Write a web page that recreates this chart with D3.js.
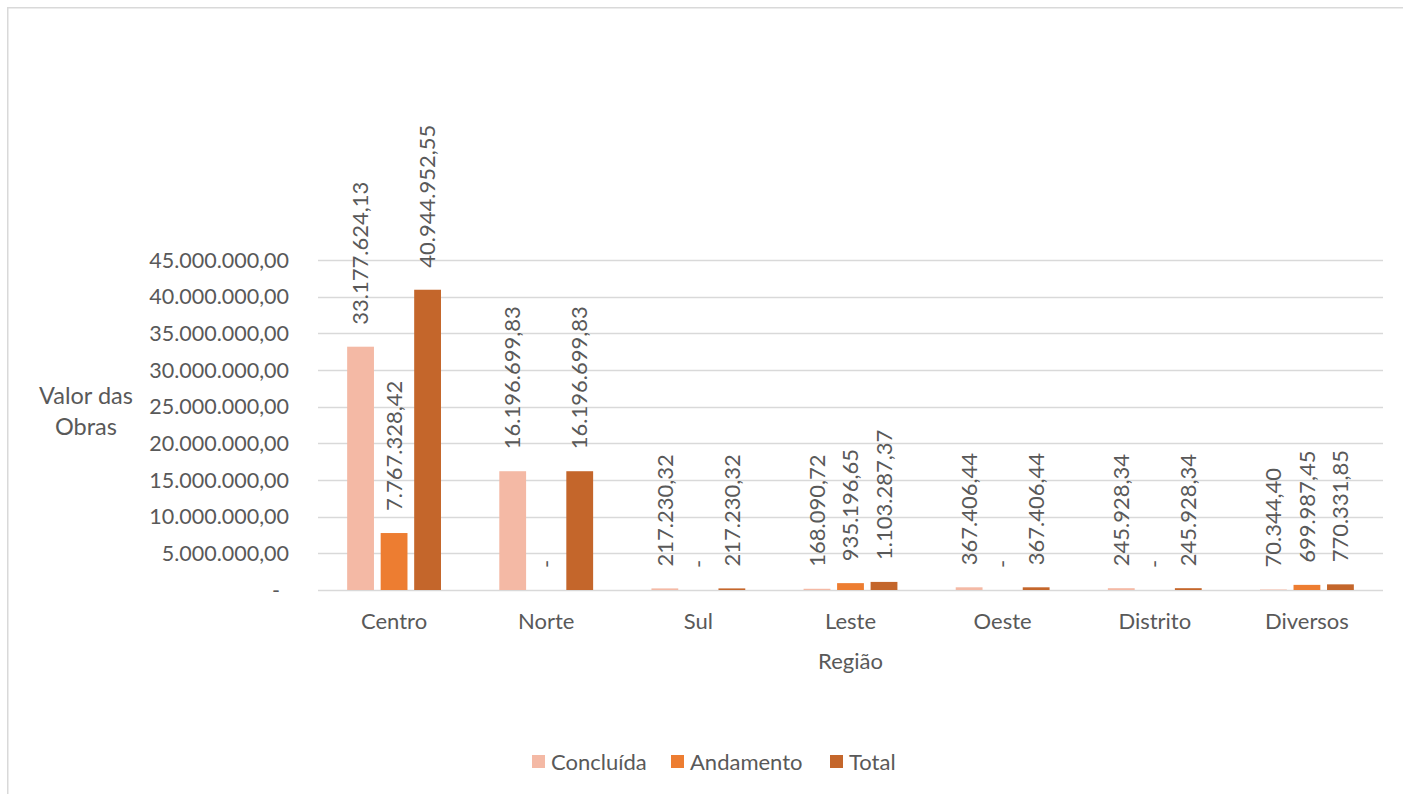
<!DOCTYPE html>
<html>
<head>
<meta charset="utf-8">
<script src="https://cdn.jsdelivr.net/npm/d3@7"></script>
<style>
  html, body { margin: 0; padding: 0; background: #fff; }
  svg { display: block; }
  text { font-family: Lato, "Open Sans", sans-serif; fill: #595959; }
</style>
</head>
<body>
<svg id="chart" width="1403" height="794"></svg>
<script>
// ---- data ----
const categories = ["Centro", "Norte", "Sul", "Leste", "Oeste", "Distrito", "Diversos"];
const seriesNames = ["Concluída", "Andamento", "Total"];
const concluida = [33177624.13, 16196699.83, 217230.32, 168090.72, 367406.44, 245928.34, 70344.40];
const andamento = [7767328.42, 0, 0, 935196.65, 0, 0, 699987.45];
const total     = [40944952.55, 16196699.83, 217230.32, 1103287.37, 367406.44, 245928.34, 770331.85];
const yTicks = [0, 5000000, 10000000, 15000000, 20000000, 25000000, 30000000, 35000000, 40000000, 45000000];
const colors = ["#F4B9A5", "#ED7D31", "#C4662B"];
const xTitle = "Região";
const yTitleLines = ["Valor das", "Obras"];

const seriesValues = [concluida, andamento, total];

const svg = d3.select("#chart");
const W = 1403, H = 794;
const plot = { left: 318, right: 1383, top: 260, bottom: 590 };
const FS_TICK = 21.5, FS_VAL = 22, FS_TXT = 22, FS_YT = 23.5;

const locale = d3.formatLocale({ decimal: ",", thousands: ".", grouping: [3], currency: ["", ""] });
const fmtNum = locale.format(",.2f");
const fmt = v => v === 0 ? "-" : fmtNum(v);

// frame
svg.append("path")
  .attr("d", `M7.75,${H} V7.75 H${W}`)
  .attr("fill", "none")
  .attr("stroke", "#d9d9d9")
  .attr("stroke-width", 1.5);

const x = d3.scaleBand().domain(categories).range([plot.left, plot.right]).padding(0);
const xs = d3.scaleBand().domain(seriesNames).range([0, x.bandwidth()]).paddingInner(0.2).paddingOuter(0.87);
const y = d3.scaleLinear().domain([0, 45000000]).range([plot.bottom, plot.top]);

// gridlines
svg.append("g").selectAll("line").data(yTicks).join("line")
  .attr("x1", plot.left).attr("x2", plot.right)
  .attr("y1", d => Math.round(y(d)) + 0.5).attr("y2", d => Math.round(y(d)) + 0.5)
  .attr("stroke", "#d9d9d9").attr("stroke-width", 1.3);

// y tick labels
svg.append("g").selectAll("text").data(yTicks).join("text")
  .attr("x", d => d === 0 ? 280 : 289)
  .attr("y", d => y(d))
  .attr("dy", "0.35em")
  .attr("text-anchor", "end")
  .style("font-size", FS_TICK + "px")
  .text(d => fmt(d));

// bars
const rows = categories.map((c, i) => seriesNames.map((s, j) => ({ cat: c, ser: s, j, v: seriesValues[j][i] })));
const gCat = svg.append("g").selectAll("g").data(rows).join("g")
  .attr("transform", (d, i) => `translate(${x(categories[i])},0)`);

gCat.selectAll("rect").data(d => d.filter(e => e.v > 0)).join("rect")
  .attr("x", d => xs(d.ser))
  .attr("width", xs.bandwidth())
  .attr("y", d => y(d.v))
  .attr("height", d => y(0) - y(d.v))
  .attr("fill", d => colors[d.j]);

// value labels
gCat.selectAll("text").data(d => d).join("text")
  .attr("transform", d => `translate(${xs(d.ser) + xs.bandwidth() / 2},${y(d.v) - 22}) rotate(-90)`)
  .attr("dy", "0.35em")
  .attr("text-anchor", "start")
  .style("font-size", FS_VAL + "px")
  .text(d => fmt(d.v));

// category labels
svg.append("g").selectAll("text").data(categories).join("text")
  .attr("x", d => x(d) + x.bandwidth() / 2)
  .attr("y", 621)
  .attr("dy", "0.35em")
  .attr("text-anchor", "middle")
  .style("font-size", FS_TXT + "px")
  .text(d => d);

// axis titles
svg.append("text")
  .attr("x", (plot.left + plot.right) / 2)
  .attr("y", 661).attr("dy", "0.35em")
  .attr("text-anchor", "middle")
  .style("font-size", FS_TXT + "px")
  .text(xTitle);

svg.append("g").selectAll("text").data(yTitleLines).join("text")
  .attr("x", 86)
  .attr("y", (d, i) => 396 + i * 31).attr("dy", "0.35em")
  .attr("text-anchor", "middle")
  .style("font-size", FS_YT + "px")
  .text(d => d);

// legend
const legendX = [532, 671, 830];
const lg = svg.append("g").selectAll("g").data(seriesNames).join("g")
  .attr("transform", (d, i) => `translate(${legendX[i]},762)`);
lg.append("rect").attr("x", 0).attr("y", -7).attr("width", 13).attr("height", 13)
  .attr("fill", (d, i) => colors[i]);
lg.append("text").attr("x", 19).attr("y", 0).attr("dy", "0.35em")
  .style("font-size", FS_TXT + "px")
  .text(d => d);
</script>
</body>
</html>
